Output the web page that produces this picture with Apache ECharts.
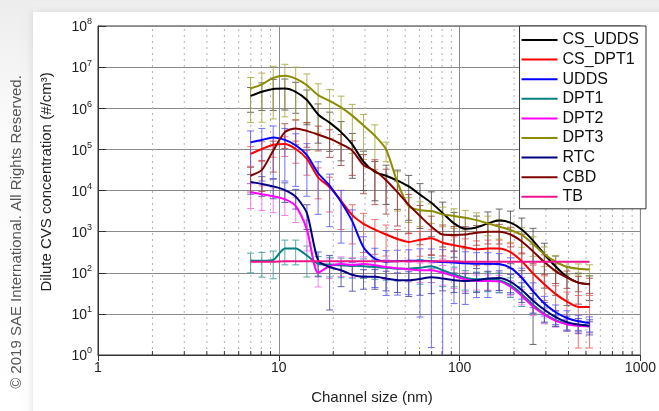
<!DOCTYPE html>
<html><head><meta charset="utf-8">
<script src="https://cdn.jsdelivr.net/npm/echarts@6/dist/echarts.min.js"></script>
<style>html,body{margin:0;padding:0;background:#fff}#c{width:659px;height:411px}</style>
</head><body><div id="c"></div>
<script>
// Channel midpoints (nm)
const channels = [6.98, 8.06, 9.31, 10.8, 12.4, 14.3, 16.5, 19.1, 22.1, 25.5, 29.4, 34.0, 39.2, 45.3, 52.3, 60.4, 69.8, 80.6, 93.1, 107.5, 124.1, 143.3, 165.5, 191.1, 220.7, 254.8, 294.3, 339.8, 392.4, 453.2, 523.3];
const xTicks = [1, 10, 100, 1000];
const yTickExps = [0, 1, 2, 3, 4, 5, 6, 7, 8];
const minorX = [2,3,4,5,6,7,8,9,20,30,40,50,60,70,80,90,200,300,400,500,600,700,800,900];

const names = ['CS_UDDS','CS_DPT1','UDDS','DPT1','DPT2','DPT3','RTC','CBD','TB'];
const colors = ['#000000','#ff0000','#0000ff','#008080','#ff00ff','#8c8c00','#000080','#800000','#f0148c'];
const barColors = ['#505050','#f05a5a','#5a5aff','#3a9a9a','#f070f0','#a8a840','#4a4aa8','#a84848','#f060a8'];

// log10 of concentration (#/cm3) read per channel
const csUddsLog = [6.30,6.40,6.47,6.48,6.40,6.20,5.85,5.65,5.42,5.12,4.70,4.45,4.36,4.24,4.10,3.90,3.70,3.45,3.20,3.07,3.10,3.20,3.27,3.22,3.05,2.78,2.45,2.15,1.90,1.76,1.72];
const csDpt1Log = [4.89,5.01,5.11,5.13,5.01,4.77,4.32,4.08,3.75,3.40,3.19,3.05,2.93,2.82,2.75,2.80,2.84,2.73,2.67,2.62,2.57,2.59,2.59,2.50,2.28,1.98,1.72,1.48,1.30,1.17,1.17];
const uddsLog   = [5.17,5.23,5.29,5.23,5.10,4.86,4.42,4.12,3.72,3.25,2.62,2.34,2.27,2.28,2.29,2.29,2.28,2.26,2.25,2.23,2.22,2.22,2.21,2.12,1.88,1.55,1.25,1.04,0.90,0.82,0.78];
const dpt1Log   = [2.30,2.29,2.31,2.59,2.59,2.42,2.22,2.20,2.18,2.17,2.16,2.14,2.12,2.10,2.10,2.12,2.16,2.06,1.96,1.88,1.84,1.84,1.82,1.70,1.48,1.22,1.00,0.85,0.76,0.72,0.70];
const dpt2Log   = [3.96,3.91,3.86,3.79,3.62,3.05,2.00,2.16,2.21,2.19,2.21,2.18,2.14,2.11,2.08,2.06,2.06,2.00,1.92,1.84,1.80,1.80,1.79,1.66,1.44,1.18,0.98,0.83,0.75,0.71,0.69];
const dpt3Log   = [6.48,6.58,6.74,6.79,6.72,6.56,6.32,6.18,6.02,5.82,5.58,5.33,5.00,4.20,3.62,3.52,3.50,3.42,3.38,3.34,3.28,3.20,3.12,3.04,2.92,2.70,2.45,2.27,2.14,2.10,2.08];
const rtcLog    = [4.21,4.16,4.10,4.01,3.85,3.45,2.30,2.14,2.06,1.95,1.90,1.90,1.86,1.82,1.82,1.85,1.89,1.86,1.82,1.80,1.82,1.86,1.87,1.78,1.58,1.32,1.10,0.92,0.80,0.74,0.71];
const cbdLog    = [4.36,4.50,4.97,5.42,5.51,5.45,5.36,5.26,5.13,4.97,4.62,4.48,4.25,3.96,3.65,3.38,3.12,2.93,2.92,2.93,2.97,3.00,3.00,2.93,2.76,2.52,2.26,2.04,1.88,1.76,1.72];
const tbLog     = [2.27,2.27,2.27,2.28,2.28,2.28,2.28,2.28,2.28,2.28,2.28,2.28,2.28,2.28,2.28,2.28,2.28,2.28,2.28,2.27,2.27,2.27,2.27,2.27,2.27,2.27,2.27,2.27,2.27,2.27,2.27];

// relative standard deviation (sd / mean) per channel, for error bars
const csUddsErr = [0.60,0.65,0.70,0.70,0.70,0.75,0.80,0.80,0.80,0.85,0.80,0.80,0.80,0.80,0.85,0.85,0.85,0.85,0.85,0.85,0.90,0.90,0.90,0.90,0.90,0.997,0.85,0.80,0.80,0.70,0.60];
const csDpt1Err = [0.50,0.50,0.50,0.50,0.55,0.60,0.70,0.75,0.80,0.80,0.80,0.75,0.70,0.70,0.65,0.60,0.60,0.60,0.60,0.60,0.60,0.60,0.60,0.60,0.60,0.60,0.60,0.60,0.70,0.90,0.90];
const uddsErr   = [0.90,0.90,0.90,0.90,0.90,0.90,0.90,0.90,0.90,0.90,0.80,0.80,0.85,0.85,0.85,0.957,0.992,0.999,0.90,0.90,0.85,0.85,0.80,0.75,0.70,0.60,0.50,0.50,0.50,0.40,0.40];
const dpt1Err   = [0.50,0.60,0.65,0.60,0.60,0.70,0.50,0.50,0.50,0.50,0.50,0.50,0.50,0.50,0.50,0.60,0.60,0.60,0.50,0.50,0.50,0.50,0.50,0.50,0.50,0.40,0.40,0.30,0.30,0.30,0.30];
const dpt2Err   = [0.60,0.60,0.60,0.60,0.60,0.70,0.55,0.50,0.50,0.50,0.50,0.50,0.50,0.50,0.50,0.50,0.50,0.50,0.50,0.50,0.40,0.40,0.40,0.40,0.40,0.40,0.40,0.30,0.30,0.30,0.30];
const dpt3Err   = [0.85,0.88,0.90,0.90,0.90,0.88,0.88,0.88,0.88,0.88,0.85,0.85,0.50,0.80,0.60,0.60,0.50,0.50,0.50,0.50,0.50,0.50,0.50,0.50,0.50,0.50,0.50,0.40,0.35,0.30,0.30];
const rtcErr    = [0.50,0.50,0.50,0.50,0.50,0.60,0.60,0.91,0.60,0.60,0.50,0.50,0.50,0.50,0.60,0.60,0.60,0.50,0.50,0.50,0.50,0.50,0.50,0.50,0.50,0.50,0.50,0.40,0.40,0.40,0.40];
const cbdErr    = [0.60,0.70,0.70,0.60,0.60,0.60,0.60,0.65,0.70,0.75,0.80,0.85,0.85,0.85,0.80,0.80,0.80,0.70,0.60,0.55,0.50,0.50,0.50,0.50,0.50,0.50,0.50,0.50,0.45,0.40,0.40];

const logs = [csUddsLog, csDpt1Log, uddsLog, dpt1Log, dpt2Log, dpt3Log, rtcLog, cbdLog, tbLog];
const errs = [csUddsErr, csDpt1Err, uddsErr, dpt1Err, dpt2Err, dpt3Err, rtcErr, cbdErr, null];

const FONT = '"Liberation Sans", Arial, sans-serif';
const Y_MIN = 1, Y_MAX = 1e8;

const chart = echarts.init(document.getElementById('c'), null, {renderer: 'canvas'});

const series = [];
// minor dotted grid lines + minor ticks
series.push({
  type: 'custom', silent: true, z: 1, clip: true,
  data: minorX.map(v => [v, Y_MIN]),
  encode: {x: 0, y: 1},
  renderItem: function (params, api) {
    const x = api.value(0);
    const b = api.coord([x, Y_MIN]);
    const t = api.coord([x, Y_MAX]);
    return {type: 'group', children: [
      {type: 'line', shape: {x1: b[0], y1: b[1], x2: t[0], y2: t[1]},
       style: {stroke: '#b0b0b0', lineWidth: 1, lineDash: [2, 4]}},
      {type: 'line', shape: {x1: b[0], y1: b[1], x2: b[0], y2: b[1] - 4},
       style: {stroke: '#333', lineWidth: 1}}
    ]};
  }
});

// error bars
logs.forEach((arr, si) => {
  const e = errs[si];
  if (!e) return;
  const data = channels.map((c, i) => {
    const v = Math.pow(10, arr[i]);
    return [c, Math.max(v * (1 - e[i]), 0.5), v * (1 + e[i])];
  });
  series.push({
    type: 'custom', name: names[si] + '_err', silent: true, z: 2, clip: true,
    data: data, encode: {x: 0, y: [1, 2]},
    renderItem: function (params, api) {
      const x = api.value(0), lo = api.value(1), hi = api.value(2);
      const top = api.coord([x, hi]);
      const clipped = lo < Y_MIN;
      const bot = api.coord([x, clipped ? Y_MIN : lo]);
      const w = 3.5;
      const st = {stroke: barColors[si], lineWidth: 1, opacity: 0.85};
      const ch = [
        {type: 'line', shape: {x1: top[0], y1: top[1], x2: bot[0], y2: bot[1]}, style: st},
        {type: 'line', shape: {x1: top[0] - w, y1: top[1], x2: top[0] + w, y2: top[1]}, style: st}
      ];
      if (!clipped) ch.push({type: 'line', shape: {x1: bot[0] - w, y1: bot[1], x2: bot[0] + w, y2: bot[1]}, style: st});
      return {type: 'group', children: ch};
    }
  });
});

// mean lines
logs.forEach((arr, si) => {
  series.push({
    type: 'line', name: names[si], z: 3,
    data: channels.map((c, i) => [c, Math.pow(10, arr[i])]),
    showSymbol: false, symbol: 'none', smooth: 0.25,
    lineStyle: {color: colors[si], width: 2},
    itemStyle: {color: colors[si]},
    emphasis: {disabled: true}
  });
});

const option = {
  animation: false,
  backgroundColor: '#ffffff',
  grid: {left: 98, right: 13, top: 26, bottom: 56, show: true, borderColor: '#333', borderWidth: 1, backgroundColor: 'transparent'},
  xAxis: {
    type: 'log', logBase: 10, min: 1, max: 1000,
    axisLine: {show: true, lineStyle: {color: '#333', width: 1}},
    axisTick: {show: true, inside: false, length: 6, lineStyle: {color: '#333'}},
    axisLabel: {
      margin: 6, fontSize: 14, color: '#222', fontFamily: FONT,
      formatter: v => { const r = Math.round(v); return xTicks.indexOf(r) >= 0 ? String(r) : ''; }
    },
    splitLine: {show: true, lineStyle: {color: '#8a8a8a', width: 1}},
    minorTick: {show: false}, minorSplitLine: {show: false}
  },
  yAxis: {
    type: 'log', logBase: 10, min: Y_MIN, max: Y_MAX,
    axisLine: {show: true, lineStyle: {color: '#333', width: 1}},
    axisTick: {show: true, inside: true, length: 8, lineStyle: {color: '#333'}},
    axisLabel: {
      margin: 6, color: '#222', fontFamily: FONT,
      formatter: v => {
        const e = Math.round(Math.log10(v));
        return yTickExps.indexOf(e) >= 0 ? '{b|10}{s|' + e + '}' : '';
      },
      rich: {
        b: {fontSize: 14, fontFamily: FONT, color: '#222', verticalAlign: 'bottom'},
        s: {fontSize: 9, fontFamily: FONT, color: '#222', padding: [0, 0, 8, 0], verticalAlign: 'bottom'}
      }
    },
    splitLine: {show: true, lineStyle: {color: '#8a8a8a', width: 1}}
  },
  legend: {
    data: names, right: 13, top: 26, orient: 'vertical', align: 'left',
    icon: 'rect', itemWidth: 36, itemHeight: 2, itemGap: 3.6,
    padding: [6, 7, 4, 2],
    backgroundColor: '#ffffff', borderColor: '#333', borderWidth: 1,
    textStyle: {fontSize: 16, fontFamily: FONT, color: '#111', lineHeight: 14},
    selectedMode: false
  },
  graphic: [
    {type: 'rect', z: -10, silent: true, shape: {x: 0, y: 0, width: 659, height: 12},
     style: {fill: new echarts.graphic.LinearGradient(0, 0, 0, 1, [{offset: 0, color: '#ededed'}, {offset: 1, color: '#f4f4f4'}])}},
    {type: 'rect', z: -10, silent: true, shape: {x: 0, y: 0, width: 33, height: 411},
     style: {fill: new echarts.graphic.LinearGradient(0, 0, 0, 1, [{offset: 0, color: '#ededed'}, {offset: 0.3, color: '#fafafa'}, {offset: 1, color: '#ffffff'}])}},
    {type: 'rect', z: -9, silent: true, shape: {x: 33, y: 12, width: 700, height: 500},
     style: {fill: '#ffffff', shadowBlur: 8, shadowColor: 'rgba(0,0,0,0.12)'}},
    {type: 'text', silent: true, x: 47, y: 182, rotation: Math.PI / 2,
     style: {text: 'Dilute CVS concentration (#/cm³)', fontSize: 15, fontFamily: FONT, fill: '#222', textAlign: 'center', textVerticalAlign: 'middle'}},
    {type: 'text', silent: true, x: 372, y: 398,
     style: {text: 'Channel size (nm)', fontSize: 15, fontFamily: FONT, fill: '#222', textAlign: 'center', textVerticalAlign: 'middle'}},
    {type: 'text', silent: true, x: 17, y: 232, rotation: Math.PI / 2,
     style: {text: '© 2019 SAE International. All Rights Reserved.', fontSize: 15, fontFamily: FONT, fill: '#555', textAlign: 'center', textVerticalAlign: 'middle'}}
  ],
  series: series
};
chart.setOption(option);
</script>
</body></html>
